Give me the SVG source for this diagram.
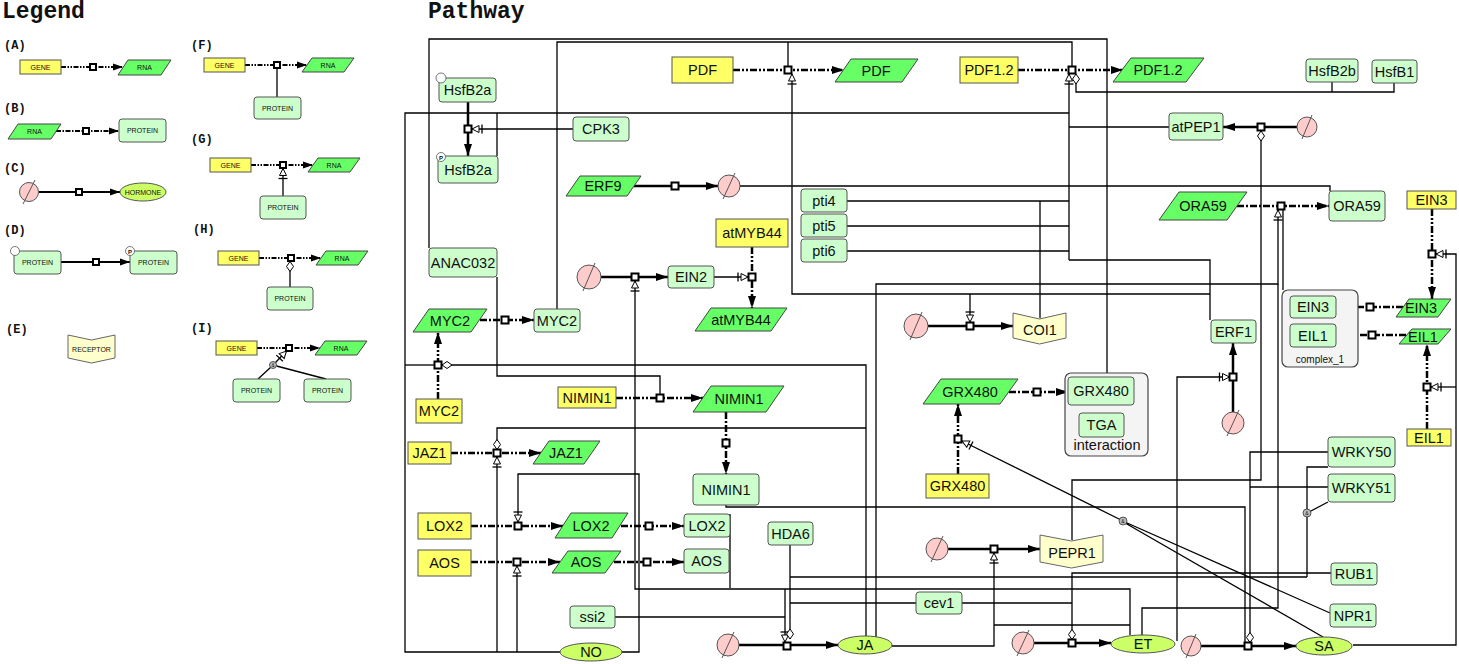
<svg xmlns="http://www.w3.org/2000/svg" width="1459" height="664" viewBox="0 0 1459 664">
<defs>
<style>
text{font-family:"Liberation Sans",Arial,sans-serif;fill:#111}
.h{font-family:"Liberation Mono",monospace;font-weight:bold;font-size:23px}
.lt{font-family:"Liberation Mono",monospace;font-weight:bold;font-size:12px}
.gene{fill:#ffff66;stroke:#555;stroke-width:1}
.rna{fill:#66ff66;stroke:#444;stroke-width:1}
.prot{fill:#ccffcc;stroke:#555;stroke-width:1}
.horm{fill:#ccff66;stroke:#555;stroke-width:1}
.rec{fill:#ffffcc;stroke:#666;stroke-width:1}
.cplx{fill:#f4f4f4;stroke:#444;stroke-width:1.2}
.src{fill:#ffcccc;stroke:#555;stroke-width:1}
.srcl{stroke:#555;stroke-width:1}
.tx{fill:none;stroke:#000;stroke-width:2.5;stroke-dasharray:7 2 2 2 2 2}
.tl{fill:none;stroke:#000;stroke-width:2.5;stroke-dasharray:7 2 2 2}
.st{fill:none;stroke:#000;stroke-width:2.5}
.md{fill:none;stroke:#000;stroke-width:1.3}
.ltx{fill:none;stroke:#000;stroke-width:2;stroke-dasharray:5 1.5 1.5 1.5 1.5 1.5}
.ltl{fill:none;stroke:#000;stroke-width:2;stroke-dasharray:5 1.5 1.5 1.5}
.lst{fill:none;stroke:#000;stroke-width:2}
.sq{fill:#fff;stroke:#000;stroke-width:2}
.and{fill:#bbb;stroke:#333;stroke-width:0.8}
.n{font-size:14.5px;text-anchor:middle}
.s{font-size:7px;text-anchor:middle}
.c{font-size:10px;text-anchor:middle}
.lsrc{fill:#fff;stroke:#555;stroke-width:0.8}
</style>
<marker id="a" markerUnits="userSpaceOnUse" markerWidth="13" markerHeight="10" refX="12" refY="5" orient="auto"><path d="M0,1 L12,5 L0,9 z" fill="#000"/></marker>
<marker id="as" markerUnits="userSpaceOnUse" markerWidth="11" markerHeight="8" refX="10" refY="4" orient="auto"><path d="M0,0.5 L10,4 L0,7.5 z" fill="#000"/></marker>
<marker id="ns" markerUnits="userSpaceOnUse" markerWidth="14" markerHeight="10" refX="13" refY="5" orient="auto"><path d="M6,1.5 L13,5 L6,8.5 z" fill="#fff" stroke="#000" stroke-width="1"/><path d="M3,0.5 V9.5" stroke="#000" stroke-width="1.3"/></marker>
<marker id="dm" markerUnits="userSpaceOnUse" markerWidth="12" markerHeight="8" refX="11" refY="4" orient="auto"><path d="M1,4 L6,0.5 L11,4 L6,7.5 z" fill="#fff" stroke="#000" stroke-width="1"/></marker>
<rect id="q" x="-3.5" y="-3.5" width="7" height="7" class="sq"/>
<rect id="qs" x="-3" y="-3" width="6" height="6" class="sq"/>
</defs>
<rect width="1459" height="664" fill="#fff"/>

<text class="h" x="2" y="18">Legend</text>
<text class="h" x="428" y="18">Pathway</text>

<g id="legend">
<text class="lt" x="4" y="49">(A)</text>
<text class="lt" x="4" y="112">(B)</text>
<text class="lt" x="4" y="172">(C)</text>
<text class="lt" x="4" y="234">(D)</text>
<text class="lt" x="6" y="333">(E)</text>
<text class="lt" x="191" y="49">(F)</text>
<text class="lt" x="191" y="143">(G)</text>
<text class="lt" x="193" y="233">(H)</text>
<text class="lt" x="191" y="332">(I)</text>
<g id="leg-connectors">
<path class="ltx" d="M61,67 H123" marker-end="url(#as)"/>
<path class="ltl" d="M56,131 H119" marker-end="url(#as)"/>
<path class="lst" d="M39,192 H120" marker-end="url(#as)"/>
<path class="lst" d="M61,262 H130" marker-end="url(#as)"/>
<path class="ltx" d="M245,65 H307" marker-end="url(#as)"/>
<path class="md" d="M277,97 V68.5"/>
<path class="ltx" d="M251,165 H313" marker-end="url(#as)"/>
<path class="md" d="M283,196 V168.5" marker-end="url(#ns)"/>
<path class="ltx" d="M259,258 H321" marker-end="url(#as)"/>
<path class="md" d="M290,287 V261.5" marker-end="url(#dm)"/>
<path class="ltx" d="M257,348 H320" marker-end="url(#as)"/>
<path class="md" d="M258,379 L271,367 M326,379 L276.5,366"/>
<path class="md" d="M275.5,362.5 L286.5,351" marker-end="url(#ns)"/>
</g>
<g id="leg-a"><rect class="gene" x="20" y="60" width="41" height="14"/><text class="s" x="40.5" y="69.5">GENE</text>
<polygon class="rna" points="128,60 171,60 161,75 118,75"/><text class="s" x="144.5" y="70">RNA</text><use href="#qs" x="93" y="67"/></g>
<g id="leg-b"><polygon class="rna" points="18,124 61,124 51,139 8,139"/><text class="s" x="34.5" y="134">RNA</text>
<rect class="prot" x="119" y="119" width="47" height="23" rx="3"/><text class="s" x="142.5" y="133">PROTEIN</text><use href="#qs" x="86" y="131"/></g>
<g id="leg-c"><circle class="src" cx="29" cy="192" r="9.5"/><line class="srcl" x1="23" y1="204" x2="35" y2="180"/>
<ellipse class="horm" cx="143" cy="192" rx="23" ry="9"/><text class="s" x="143" y="194.5">HORMONE</text><use href="#qs" x="79" y="192"/></g>
<g id="leg-d"><rect class="prot" x="14" y="251" width="47" height="23" rx="3"/><circle class="lsrc" cx="15" cy="251" r="4.5"/><text class="s" x="37.5" y="265">PROTEIN</text>
<rect class="prot" x="130" y="251" width="47" height="23" rx="3"/><circle class="lsrc" cx="130" cy="251" r="4.5"/><text x="130" y="253.5" style="font-size:6px;font-weight:bold;text-anchor:middle">P</text><text class="s" x="153.5" y="265">PROTEIN</text><use href="#qs" x="96" y="262"/></g>
<g id="leg-e"><polygon class="rec" points="68,335 91.5,340 115,335 115,358 91.5,363 68,358"/><text class="s" x="91.5" y="352">RECEPTOR</text></g>
<g id="leg-f"><rect class="gene" x="204" y="58" width="41" height="14"/><text class="s" x="224.5" y="67.5">GENE</text>
<polygon class="rna" points="312,58 354,58 344,72 302,72"/><text class="s" x="328" y="68">RNA</text>
<rect class="prot" x="254" y="97" width="47" height="22" rx="3"/><text class="s" x="277.5" y="110.5">PROTEIN</text><use href="#qs" x="277" y="65"/></g>
<g id="leg-g"><rect class="gene" x="210" y="158" width="41" height="14"/><text class="s" x="230.5" y="167.5">GENE</text>
<polygon class="rna" points="318,158 360,158 350,172 308,172"/><text class="s" x="334" y="168">RNA</text>
<rect class="prot" x="260" y="196" width="46" height="23" rx="3"/><text class="s" x="283" y="210">PROTEIN</text><use href="#qs" x="283" y="165"/></g>
<g id="leg-h"><rect class="gene" x="218" y="251" width="41" height="14"/><text class="s" x="238.5" y="260.5">GENE</text>
<polygon class="rna" points="326,251 368,251 358,265 316,265"/><text class="s" x="342" y="261">RNA</text>
<rect class="prot" x="267" y="287" width="46" height="23" rx="3"/><text class="s" x="290" y="301">PROTEIN</text><use href="#qs" x="291" y="258"/></g>
<g id="leg-i"><rect class="gene" x="216" y="341" width="41" height="14"/><text class="s" x="236.5" y="350.5">GENE</text>
<polygon class="rna" points="325,341 367,341 357,355 315,355"/><text class="s" x="341" y="351">RNA</text>
<rect class="prot" x="233" y="379" width="47" height="23" rx="3"/><text class="s" x="256.5" y="393">PROTEIN</text>
<rect class="prot" x="304" y="379" width="47" height="23" rx="3"/><text class="s" x="327.5" y="393">PROTEIN</text>
<circle class="and" cx="273" cy="365" r="3.5"/><text x="273" y="367" style="font-size:4.5px;text-anchor:middle">&amp;</text><use href="#qs" x="289" y="348"/></g>
</g>

<g id="connectors">
<path class="md" d="M573,129 H472" marker-end="url(#ns)"/>
<path class="md" d="M714,277 H748" marker-end="url(#ns)"/>
<path class="md" d="M1130,635 V589 H635 V281" marker-end="url(#ns)"/>
<path class="md" d="M785,589 V642" marker-end="url(#ns)"/>
<path class="md" d="M1130,625 H994"/>
<path class="md" d="M892,646 H994 V553" marker-end="url(#ns)"/>
<path class="md" d="M560,652 H405 V113 H1069"/>
<path class="md" d="M405,365 H434.5"/>
<path class="md" d="M497,156 V113"/>
<path class="md" d="M497,652 V457" marker-end="url(#ns)"/>
<path class="md" d="M517,652 V566" marker-end="url(#ns)"/>
<path class="md" d="M622,652 H639 V474 H518 V522" marker-end="url(#ns)"/>
<path class="md" d="M429,248 V39 H1107 V373"/>
<path class="md" d="M497,277 V376 H660 V394.5"/>
<path class="md" d="M557,309 V42 H1072 V66.5 M788,42 V66.5"/>
<path class="md" d="M1069,260 V74" marker-end="url(#ns)"/>
<path class="md" d="M1069,127 H1169 M740,186 H1330 V191 M847,201 H1069 M847,226 H1069 M847,251 H1069 M1069,260 H1210 V320"/>
<path class="md" d="M1394,83 V92 H1076 V74" marker-end="url(#dm)"/>
<path class="md" d="M1332,82 V92"/>
<path class="md" d="M1210,294 H792 V74" marker-end="url(#ns)"/>
<path class="md" d="M970,294 V322" marker-end="url(#ns)"/>
<path class="md" d="M1040,318 V201"/>
<path class="md" d="M866,637 V365 H442" marker-end="url(#dm)"/>
<path class="md" d="M866,428 H497 V449.5" marker-end="url(#dm)"/>
<path class="md" d="M876,637 V284 H1278 V210" marker-end="url(#ns)"/>
<path class="md" d="M1142,636 V608 H1278 V284"/>
<path class="md" d="M615,617 H785"/>
<path class="md" d="M790,545 V639" marker-end="url(#dm)"/>
<path class="md" d="M790,603 H916 M962,603 H1072"/>
<path class="md" d="M1307,577 H790"/>
<path class="md" d="M1331,573 H1072 V639.5" marker-end="url(#dm)"/>
<path class="md" d="M1177,641 V377 H1229.5" marker-end="url(#ns)"/>
<path class="md" d="M726,505 V507 H1245 V642.5"/>
<path class="md" d="M1328,452 H1250 V642.5" marker-end="url(#dm)"/>
<path class="md" d="M1328,487 H1250"/>
<path class="md" d="M1328,467 H1307 V577 M1328,502 L1310,511.5"/>
<path class="md" d="M1330,613 L1126,522.5 M1323,637 L1126,523.5"/>
<path class="md" d="M1120,519.5 L962,441" marker-end="url(#ns)"/>
<path class="md" d="M1072,540 V480 H1261 V131" marker-end="url(#dm)"/>
<path class="md" d="M1353,645 H1456 V254 H1436" marker-end="url(#ns)"/>
<path class="md" d="M1456,387 H1431" marker-end="url(#ns)"/>
<path class="md" d="M1283,290 V210"/>
<path class="md" d="M730,514 V588"/>
<path class="tx" d="M733,70 H844" marker-end="url(#a)"/>
<path class="tx" d="M1018,70 H1123" marker-end="url(#a)"/>
<path class="tx" d="M752,247 V308" marker-end="url(#a)"/>
<path class="tx" d="M438,399 V332" marker-end="url(#a)"/>
<path class="tx" d="M616,398 H703" marker-end="url(#a)"/>
<path class="tx" d="M451,453 H541" marker-end="url(#a)"/>
<path class="tx" d="M471,526 H563" marker-end="url(#a)"/>
<path class="tx" d="M471,562 H560" marker-end="url(#a)"/>
<path class="tx" d="M958,474 V404" marker-end="url(#a)"/>
<path class="tx" d="M1432,209 V299" marker-end="url(#a)"/>
<path class="tx" d="M1427,429 V344" marker-end="url(#a)"/>
<path class="tl" d="M480,320 H534" marker-end="url(#a)"/>
<path class="tl" d="M726,412 V474" marker-end="url(#a)"/>
<path class="tl" d="M621,526 H684" marker-end="url(#a)"/>
<path class="tl" d="M614,562 H684" marker-end="url(#a)"/>
<path class="tl" d="M1009,392 H1068" marker-end="url(#a)"/>
<path class="tl" d="M1237,206 H1329" marker-end="url(#a)"/>
<path class="tl" d="M1403,307 H1336" marker-end="url(#a)"/>
<path class="tl" d="M1406,335 H1336" marker-end="url(#a)"/>
<path class="st" d="M468,102 V156" marker-end="url(#a)"/>
<path class="st" d="M634,186 H718" marker-end="url(#a)"/>
<path class="st" d="M1297,127 H1223" marker-end="url(#a)"/>
<path class="st" d="M601,277 H668" marker-end="url(#a)"/>
<path class="st" d="M928,326 H1013" marker-end="url(#a)"/>
<path class="st" d="M1233,412 V343" marker-end="url(#a)"/>
<path class="st" d="M948,549 H1040" marker-end="url(#a)"/>
<path class="st" d="M739,645 H838" marker-end="url(#a)"/>
<path class="st" d="M1034,643 H1111" marker-end="url(#a)"/>
<path class="st" d="M1201,646 H1296" marker-end="url(#a)"/>
<use href="#q" x="788" y="70"/><use href="#q" x="1072" y="70"/><use href="#q" x="468" y="129"/>
<use href="#q" x="675" y="186"/><use href="#q" x="1261" y="127"/><use href="#q" x="1281" y="206"/>
<use href="#q" x="1432" y="254"/><use href="#q" x="1370" y="307"/><use href="#q" x="1372" y="335"/>
<use href="#q" x="1427" y="387"/><use href="#q" x="752" y="277"/><use href="#q" x="635" y="277"/>
<use href="#q" x="505" y="320"/><use href="#q" x="438" y="365"/><use href="#q" x="970" y="326"/>
<use href="#q" x="1037" y="392"/><use href="#q" x="958" y="439"/><use href="#q" x="1233" y="377"/>
<use href="#q" x="660" y="398"/><use href="#q" x="726" y="443"/><use href="#q" x="497" y="453"/>
<use href="#q" x="518" y="526"/><use href="#q" x="649" y="526"/><use href="#q" x="517" y="562"/>
<use href="#q" x="647" y="562"/><use href="#q" x="994" y="549"/><use href="#q" x="787" y="646"/>
<use href="#q" x="1072" y="643"/><use href="#q" x="1248" y="646"/>
<circle class="and" cx="1307" cy="513" r="4"/><text x="1307" y="515" style="font-size:5px;text-anchor:middle">&amp;</text>
<circle class="and" cx="1123" cy="521" r="4"/><text x="1123" y="523" style="font-size:5px;text-anchor:middle">&amp;</text>
</g>

<g id="cplx-tga"><rect class="cplx" x="1065" y="373" width="83" height="83" rx="6"/><text class="n" x="1107" y="450">interaction</text></g>
<g id="cplx-1"><rect class="cplx" x="1282" y="290" width="76" height="77" rx="6"/><text class="c" x="1320" y="363">complex_1</text></g>

<g id="g-pdf"><rect class="gene" x="672" y="57" width="61" height="26"/><text class="n" x="702.5" y="75">PDF</text></g>
<g id="g-pdf12"><rect class="gene" x="960" y="57" width="58" height="26"/><text class="n" x="989" y="75">PDF1.2</text></g>
<g id="g-atmyb44"><rect class="gene" x="716" y="219" width="72" height="28"/><text class="n" x="752" y="238">atMYB44</text></g>
<g id="g-myc2"><rect class="gene" x="416" y="399" width="46" height="24"/><text class="n" x="439" y="416">MYC2</text></g>
<g id="g-nimin1"><rect class="gene" x="558" y="387" width="58" height="21"/><text class="n" x="587" y="402.5">NIMIN1</text></g>
<g id="g-jaz1"><rect class="gene" x="408" y="442" width="43" height="22"/><text class="n" x="429.5" y="458">JAZ1</text></g>
<g id="g-lox2"><rect class="gene" x="418" y="513" width="53" height="26"/><text class="n" x="444.5" y="531">LOX2</text></g>
<g id="g-aos"><rect class="gene" x="418" y="550" width="53" height="26"/><text class="n" x="444.5" y="568">AOS</text></g>
<g id="g-grx480"><rect class="gene" x="926" y="474" width="63" height="24"/><text class="n" x="957.5" y="491">GRX480</text></g>
<g id="g-ein3"><rect class="gene" x="1407" y="191" width="49" height="18"/><text class="n" x="1431.5" y="205">EIN3</text></g>
<g id="g-eil1"><rect class="gene" x="1407" y="429" width="44" height="17"/><text class="n" x="1429" y="443">EIL1</text></g>

<g id="r-pdf"><polygon class="rna" points="851,59 918,59 902,82 835,82"/><text class="n" x="876" y="75.5">PDF</text></g>
<g id="r-pdf12"><polygon class="rna" points="1131,58 1204,58 1186,82 1113,82"/><text class="n" x="1158" y="75">PDF1.2</text></g>
<g id="r-erf9"><polygon class="rna" points="580,176 641,176 627,196 566,196"/><text class="n" x="603" y="191">ERF9</text></g>
<g id="r-atmyb44"><polygon class="rna" points="711,308 787,308 771,331 695,331"/><text class="n" x="741" y="325">atMYB44</text></g>
<g id="r-myc2"><polygon class="rna" points="429,309 487,309 471,332 413,332"/><text class="n" x="450" y="325.5">MYC2</text></g>
<g id="r-nimin1"><polygon class="rna" points="711,386 784,386 766,412 693,412"/><text class="n" x="739" y="404">NIMIN1</text></g>
<g id="r-jaz1"><polygon class="rna" points="549,441 600,441 584,464 533,464"/><text class="n" x="566" y="458">JAZ1</text></g>
<g id="r-lox2"><polygon class="rna" points="571,513 628,513 612,538 555,538"/><text class="n" x="591" y="531">LOX2</text></g>
<g id="r-aos"><polygon class="rna" points="568,551 621,551 605,573 552,573"/><text class="n" x="586" y="567">AOS</text></g>
<g id="r-grx480"><polygon class="rna" points="941,379 1018,379 1000,404 923,404"/><text class="n" x="970" y="397">GRX480</text></g>
<g id="r-ora59"><polygon class="rna" points="1179,192 1247,192 1227,220 1159,220"/><text class="n" x="1203" y="211">ORA59</text></g>
<g id="r-ein3"><polygon class="rna" points="1409,299 1451,299 1438,317 1396,317"/><text class="n" x="1421" y="313">EIN3</text></g>
<g id="r-eil1"><polygon class="rna" points="1412,329 1451,329 1438,344 1399,344"/><text class="n" x="1423" y="342">EIL1</text></g>

<g id="p-hsfb2a"><rect class="prot" x="439" y="78" width="57" height="24" rx="3"/><circle class="lsrc" cx="441" cy="78" r="5"/><text class="n" x="467.5" y="95">HsfB2a</text></g>
<g id="p-hsfb2a-p"><rect class="prot" x="438" y="156" width="60" height="27" rx="3"/><circle class="lsrc" cx="441" cy="157" r="4.5"/><text x="441" y="159.5" style="font-size:6px;font-weight:bold;text-anchor:middle">P</text><text class="n" x="468" y="174.5">HsfB2a</text></g>
<g id="p-cpk3"><rect class="prot" x="573" y="117" width="56" height="24" rx="3"/><text class="n" x="601" y="134">CPK3</text></g>
<g id="p-anac032"><rect class="prot" x="429" y="248" width="68" height="29" rx="3"/><text class="n" x="463" y="267.5">ANAC032</text></g>
<g id="p-myc2"><rect class="prot" x="534" y="309" width="46" height="23" rx="3"/><text class="n" x="557" y="325.5">MYC2</text></g>
<g id="p-ein2"><rect class="prot" x="668" y="266" width="46" height="22" rx="3"/><text class="n" x="691" y="282">EIN2</text></g>
<g id="p-pti4"><rect class="prot" x="801" y="189" width="46" height="23" rx="3"/><text class="n" x="824" y="205.5">pti4</text></g>
<g id="p-pti5"><rect class="prot" x="801" y="214" width="46" height="23" rx="3"/><text class="n" x="824" y="230.5">pti5</text></g>
<g id="p-pti6"><rect class="prot" x="801" y="239" width="46" height="23" rx="3"/><text class="n" x="824" y="255.5">pti6</text></g>
<g id="p-nimin1"><rect class="prot" x="693" y="474" width="66" height="31" rx="3"/><text class="n" x="726" y="494.5">NIMIN1</text></g>
<g id="p-lox2"><rect class="prot" x="684" y="514" width="46" height="23" rx="3"/><text class="n" x="707" y="530.5">LOX2</text></g>
<g id="p-aos"><rect class="prot" x="684" y="549" width="45" height="24" rx="3"/><text class="n" x="706.5" y="566">AOS</text></g>
<g id="p-hda6"><rect class="prot" x="768" y="522" width="45" height="23" rx="3"/><text class="n" x="790.5" y="538.5">HDA6</text></g>
<g id="p-ssi2"><rect class="prot" x="570" y="606" width="45" height="22" rx="3"/><text class="n" x="592.5" y="622">ssi2</text></g>
<g id="p-cev1"><rect class="prot" x="916" y="592" width="46" height="22" rx="3"/><text class="n" x="939" y="608">cev1</text></g>
<g id="p-hsfb2b"><rect class="prot" x="1306" y="59" width="52" height="23" rx="3"/><text class="n" x="1332" y="75.5">HsfB2b</text></g>
<g id="p-hsfb1"><rect class="prot" x="1372" y="60" width="45" height="23" rx="3"/><text class="n" x="1394.5" y="76.5">HsfB1</text></g>
<g id="p-atpep1"><rect class="prot" x="1169" y="113" width="54" height="27" rx="3"/><text class="n" x="1196" y="131.5">atPEP1</text></g>
<g id="p-ora59"><rect class="prot" x="1329" y="191" width="56" height="30" rx="3"/><text class="n" x="1357" y="211">ORA59</text></g>
<g id="p-erf1"><rect class="prot" x="1211" y="320" width="45" height="23" rx="3"/><text class="n" x="1233.5" y="336.5">ERF1</text></g>
<g id="p-grx480"><rect class="prot" x="1068" y="377" width="66" height="28" rx="3"/><text class="n" x="1101" y="396">GRX480</text></g>
<g id="p-tga"><rect class="prot" x="1079" y="413" width="45" height="24" rx="3"/><text class="n" x="1101.5" y="430">TGA</text></g>
<g id="p-ein3"><rect class="prot" x="1290" y="296" width="46" height="22" rx="3"/><text class="n" x="1313" y="312">EIN3</text></g>
<g id="p-eil1"><rect class="prot" x="1290" y="324" width="46" height="23" rx="3"/><text class="n" x="1313" y="340.5">EIL1</text></g>
<g id="p-wrky50"><rect class="prot" x="1328" y="437" width="67" height="30" rx="3"/><text class="n" x="1361.5" y="457">WRKY50</text></g>
<g id="p-wrky51"><rect class="prot" x="1328" y="474" width="67" height="28" rx="3"/><text class="n" x="1361.5" y="493">WRKY51</text></g>
<g id="p-rub1"><rect class="prot" x="1331" y="563" width="46" height="22" rx="3"/><text class="n" x="1354" y="579">RUB1</text></g>
<g id="p-npr1"><rect class="prot" x="1330" y="604" width="46" height="23" rx="3"/><text class="n" x="1353" y="620.5">NPR1</text></g>

<g id="r-coi1"><polygon class="rec" points="1013,313 1039.5,319 1066,313 1066,338 1039.5,344 1013,338"/><text class="n" x="1040" y="335">COI1</text></g>
<g id="r-pepr1"><polygon class="rec" points="1040,535 1071.5,541 1103,535 1103,562 1071.5,568 1040,562"/><text class="n" x="1072" y="558">PEPR1</text></g>

<g id="h-ja"><ellipse class="horm" cx="865" cy="645" rx="27" ry="9"/><text class="n" x="865" y="650">JA</text></g>
<g id="h-et"><ellipse class="horm" cx="1143" cy="644" rx="32" ry="9"/><text class="n" x="1143" y="649">ET</text></g>
<g id="h-sa"><ellipse class="horm" cx="1324" cy="646" rx="28" ry="9"/><text class="n" x="1324" y="651">SA</text></g>
<g id="h-no"><ellipse class="horm" cx="591" cy="652" rx="31" ry="9"/><text class="n" x="591" y="657">NO</text></g>

<g id="s-ein2"><circle class="src" cx="589" cy="277" r="12"/><line class="srcl" x1="583" y1="291" x2="595" y2="263"/></g>
<g id="s-erf9"><circle class="src" cx="729" cy="186" r="11"/><line class="srcl" x1="723" y1="199" x2="735" y2="173"/></g>
<g id="s-coi1"><circle class="src" cx="916" cy="326" r="12"/><line class="srcl" x1="910" y1="340" x2="922" y2="312"/></g>
<g id="s-atpep1"><circle class="src" cx="1307" cy="127" r="10"/><line class="srcl" x1="1302" y1="139" x2="1312" y2="115"/></g>
<g id="s-erf1"><circle class="src" cx="1233" cy="423" r="11"/><line class="srcl" x1="1227" y1="436" x2="1239" y2="410"/></g>
<g id="s-pepr1"><circle class="src" cx="937" cy="549" r="11"/><line class="srcl" x1="931" y1="562" x2="943" y2="536"/></g>
<g id="s-ja"><circle class="src" cx="728" cy="645" r="11"/><line class="srcl" x1="722" y1="658" x2="734" y2="632"/></g>
<g id="s-et"><circle class="src" cx="1023" cy="643" r="11"/><line class="srcl" x1="1017" y1="656" x2="1029" y2="630"/></g>
<g id="s-sa"><circle class="src" cx="1191" cy="646" r="10"/><line class="srcl" x1="1186" y1="658" x2="1196" y2="634"/></g>
</svg>
